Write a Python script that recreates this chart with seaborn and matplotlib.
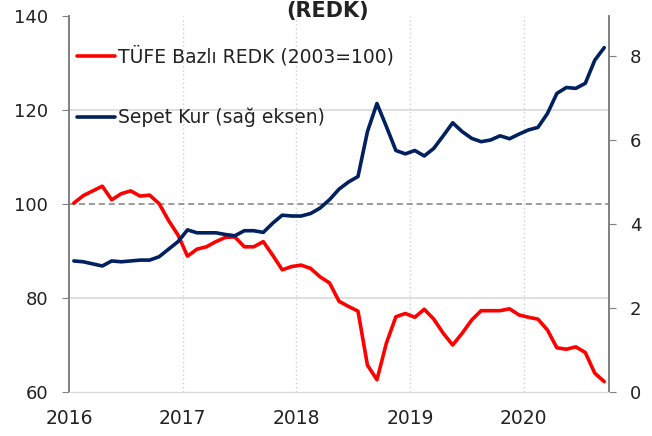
import pandas as pd
import matplotlib
matplotlib.use("Agg")
import matplotlib.pyplot as plt
import seaborn as sns

# monthly data, Jan 2016 - Sep 2020
months = pd.date_range("2016-01-01", periods=57, freq="MS")

# TÜFE bazlı reel efektif döviz kuru (2003=100), left axis
redk = [100.2, 101.8, 102.8, 103.8, 100.9, 102.2, 102.8, 101.7, 101.9, 100.1,
        96.5, 93.4, 88.9, 90.4, 90.9, 92.0, 92.9, 93.0, 90.9, 90.9,
        92.0, 89.1, 86.0, 86.7, 87.0, 86.3, 84.5, 83.2, 79.3, 78.2,
        77.2, 65.7, 62.6, 70.4, 76.0, 76.7, 75.9, 77.6, 75.5, 72.5,
        70.0, 72.5, 75.3, 77.3, 77.3, 77.3, 77.7, 76.4, 75.9, 75.5,
        73.2, 69.4, 69.1, 69.6, 68.4, 64.0, 62.2]

# sepet kur, right axis
sepet = [3.12, 3.10, 3.05, 3.00, 3.12, 3.10, 3.12, 3.14, 3.14, 3.22,
         3.40, 3.58, 3.86, 3.79, 3.79, 3.79, 3.75, 3.72, 3.84, 3.84,
         3.80, 4.02, 4.21, 4.19, 4.19, 4.25, 4.38, 4.58, 4.83, 5.00,
         5.13, 6.20, 6.87, 6.32, 5.75, 5.67, 5.75, 5.62, 5.80, 6.10,
         6.41, 6.20, 6.04, 5.96, 6.00, 6.10, 6.03, 6.14, 6.24, 6.30,
         6.63, 7.11, 7.25, 7.23, 7.35, 7.90, 8.20]

years = [2016, 2017, 2018, 2019, 2020]
left_ticks = [60, 80, 100, 120, 140]
right_ticks = [0, 2, 4, 6, 8]

df = pd.DataFrame({"date": months, "redk": redk, "sepet": sepet})
# place each month in the middle of its slot on a decimal-year axis
df["x"] = df["date"].dt.year + (df["date"].dt.month - 0.5) / 12

sns.set_style("white")
plt.rcParams["font.family"] = ["DejaVu Sans"]

fig = plt.figure(figsize=(6.52, 4.36), dpi=100)
ax = fig.add_axes([0.106, 0.101, 0.828, 0.862])
ax2 = ax.twinx()

# grid first so lines sit on top
for y in [80, 120]:
    ax.axhline(y, color="#d9d9d9", lw=1.2, zorder=0)
for yr in years[1:]:
    ax.axvline(yr, color="#d0d0d0", lw=1, ls=(0, (1, 2)), zorder=0)
ax.axhline(100, color="#808080", lw=1.1, ls=(0, (4, 2.5)), zorder=1)

sns.lineplot(data=df, x="x", y="redk", ax=ax, color="#ff0000", lw=2.6,
             label="TÜFE Bazlı REDK (2003=100)", legend=False, zorder=3)
sns.lineplot(data=df, x="x", y="sepet", ax=ax2, color="#002060", lw=2.6,
             label="Sepet Kur (sağ eksen)", legend=False, zorder=3)

ax.set_xlim(2016, 2020.75)
ax.set_ylim(60, 140)
ax2.set_ylim(0, 8.95)
ax.set_xticks(years)
ax.set_xticklabels([str(y) for y in years])
ax.set_yticks(left_ticks)
ax2.set_yticks(right_ticks)
ax.set_xlabel("")
ax.set_ylabel("")
ax2.set_ylabel("")

for a in (ax, ax2):
    a.spines["top"].set_visible(False)
    a.spines["left"].set_color("#808080")
    a.spines["right"].set_color("#808080")
    a.spines["bottom"].set_color("#d9d9d9")
    a.spines["left"].set_linewidth(1.2)
    a.spines["right"].set_linewidth(1.2)

ax.tick_params(axis="y", direction="out", length=5, color="#808080",
               labelsize=13, pad=10, left=True, labelcolor="#222222")
ax2.tick_params(axis="y", direction="out", length=5, color="#808080",
                labelsize=13, pad=10, right=True, labelcolor="#222222")
ax.tick_params(axis="x", length=0, labelsize=13.5, pad=12, labelcolor="#222222")

h1, l1 = ax.get_legend_handles_labels()
h2, l2 = ax2.get_legend_handles_labels()
leg = ax.legend(h1 + h2, l1 + l2, loc="upper left", frameon=False,
                fontsize=13.5, handlelength=2.0, handletextpad=0.2,
                labelspacing=2.2, borderpad=0, borderaxespad=0,
                bbox_to_anchor=(0.015, 0.92))
for t in leg.get_texts():
    t.set_color("#222222")
leg.set_zorder(5)

# title is cut off at the top edge of the image
fig.text(0.503, 0.975, "(REDK)", ha="center", va="center",
         fontsize=15, fontweight="bold", color="#222222")

fig.savefig("out.png", dpi=100)
